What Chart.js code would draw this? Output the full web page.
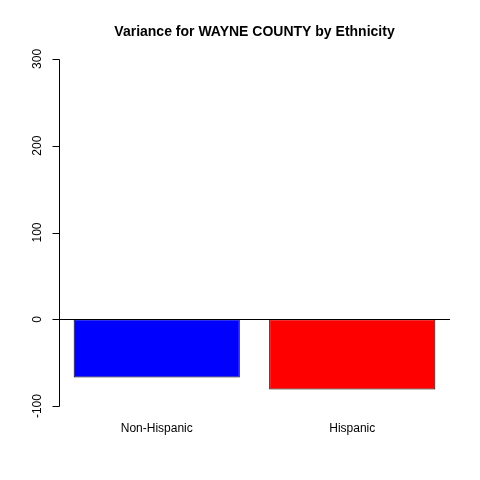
<!DOCTYPE html>
<html><head><meta charset="utf-8">
<script src="https://cdn.jsdelivr.net/npm/chart.js@4.4.0/dist/chart.umd.min.js"></script>
<style>html,body{margin:0;padding:0;background:#fff}#w{width:480px;height:480px}</style>
</head><body><div id="w"><canvas id="c" width="480" height="480"></canvas></div>
<script>
const categories = ["Non-Hispanic", "Hispanic"];
const variance = [-67, -81];
const barColors = ["#0000FF", "#FF0000"];
const yTicks = [-100, 0, 100, 200, 300];
const titleText = "Variance for WAYNE COUNTY by Ethnicity";

const rAxes = {
  id: "rAxes",
  afterDatasetsDraw(chart) {
    const ctx = chart.ctx, y = chart.scales.y, x = chart.scales.x, a = chart.chartArea;
    ctx.save();
    ctx.strokeStyle = "#000"; ctx.lineWidth = 1;
    // zero line
    const y0 = Math.round(y.getPixelForValue(0)) + 0.5;
    ctx.beginPath(); ctx.moveTo(a.left, y0); ctx.lineTo(a.right, y0); ctx.stroke();
    // y axis
    const ax = Math.round(a.left) + 0.5;
    const top = Math.round(y.getPixelForValue(yTicks[yTicks.length-1])) + 0.5;
    const bot = Math.round(y.getPixelForValue(yTicks[0])) + 0.5;
    ctx.beginPath(); ctx.moveTo(ax, top); ctx.lineTo(ax, bot);
    yTicks.forEach(v => { const p = Math.round(y.getPixelForValue(v)) + 0.5; ctx.moveTo(ax, p); ctx.lineTo(ax - 7, p); });
    ctx.stroke();
    ctx.fillStyle = "#000";
    ctx.font = "12px 'Liberation Sans', Arial, sans-serif";
    ctx.textAlign = "center"; ctx.textBaseline = "middle";
    yTicks.forEach(v => {
      const p = y.getPixelForValue(v);
      ctx.save(); ctx.translate(38, p); ctx.rotate(-Math.PI/2); ctx.fillText(String(v), 0, 0); ctx.restore();
    });
    categories.forEach((c, i) => {
      ctx.fillText(c, x.getPixelForValue(i), 429);
    });
    ctx.font = "bold 14px 'Liberation Sans', Arial, sans-serif";
    ctx.fillText(titleText, (a.left + a.right) / 2, 32);
    ctx.restore();
  }
};

new Chart(document.getElementById("c"), {
  type: "bar",
  data: { labels: categories, datasets: [{ data: variance, backgroundColor: barColors, borderColor: "#000", borderWidth: 1, borderSkipped: false, categoryPercentage: 1, barPercentage: 0.85 }] },
  options: {
    responsive: false, animation: false, devicePixelRatio: 1,
    layout: { padding: { left: 59, right: 30, top: 45, bottom: 60 } },
    plugins: { legend: { display: false }, title: { display: false }, tooltip: { enabled: false } },
    scales: {
      x: { display: false, offset: true, grid: { display: false } },
      y: { display: false, min: -116, max: 316 }
    }
  },
  plugins: [rAxes]
});
</script></body></html>
